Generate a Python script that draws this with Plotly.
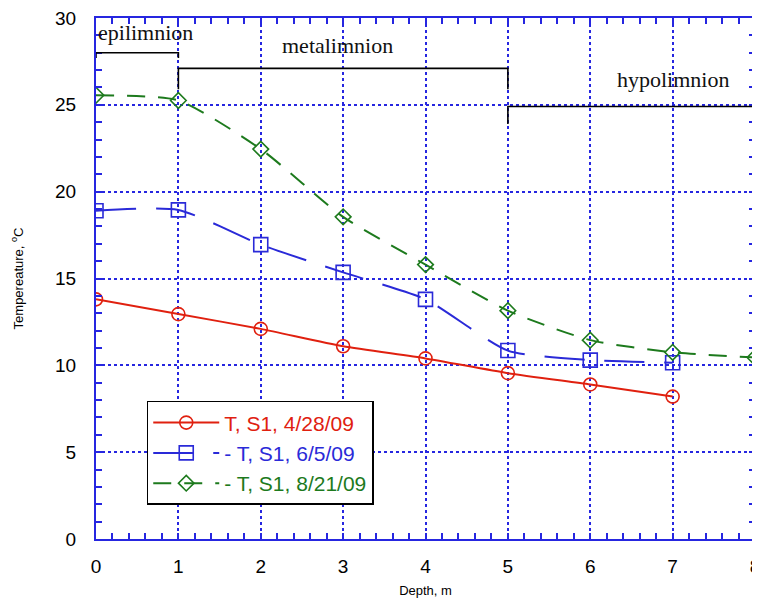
import plotly.graph_objects as go

depth_red = [0, 1, 2, 3, 4, 5, 6, 7]
temp_red = [13.8, 12.95, 12.1, 11.1, 10.4, 9.55, 8.9, 8.2]

depth_blue = [0, 1, 2, 3, 4, 5, 6, 7]
temp_blue = [18.9, 18.95, 16.95, 15.35, 13.8, 10.85, 10.3, 10.15]

depth_green = [0, 1, 2, 3, 4, 5, 6, 7, 8]
temp_green = [25.55, 25.25, 22.45, 18.55, 15.8, 13.15, 11.45, 10.75, 10.45]

series_names = ["T, S1, 4/28/09", "- T, S1, 6/5/09", "- T, S1, 8/21/09"]

layer_names = ["epilimnion", "metalimnion", "hypolimnion"]
layer_start = [0, 1, 5]
layer_end = [1, 5, 8]
layer_level = [28.0, 27.1, 24.9]
layer_drop = [0.3, 1.2, 1.0]
label_x = [0.0, 2.93, 7.0]
label_y = [29.15, 28.4, 26.45]

RED = "#e0200f"
BLUE = "#2a2ad8"
GREEN = "#1d7a1d"
GRID = "#2626e0"

fig = go.Figure()


def add(x, y, name, color, symbol, size, dash):
    fig.add_trace(go.Scatter(
        x=x, y=y, mode="lines+markers",
        name=f'<span style="color:{color}">{name}</span>',
        line=dict(color=color, width=2, shape="spline", smoothing=0.6, dash=dash),
        marker=dict(symbol=symbol, size=size, color=color,
                    line=dict(color=color, width=1.6)),
    ))


add(depth_red, temp_red, series_names[0], RED, "circle-open", 13, "solid")
add(depth_blue, temp_blue, series_names[1], BLUE, "square-open", 14, "40px,20px")
add(depth_green, temp_green, series_names[2], GREEN, "diamond-open", 12, "18px,13px")

for i in range(len(layer_names)):
    a, b, lv, d = layer_start[i], layer_end[i], layer_level[i], layer_drop[i]
    fig.add_shape(type="path",
                  path=f"M {a},{lv - d} L {a},{lv} L {b},{lv} L {b},{lv - d}",
                  line=dict(color="black", width=1.6))
    fig.add_annotation(x=label_x[i], y=label_y[i],
                       text=layer_names[i], showarrow=False,
                       xanchor="center" if i else "left",
                       font=dict(family="Liberation Serif", size=22, color="#111"))

minor_style = dict(ticks="inside", ticklen=6, tickcolor=GRID, tickwidth=1.5, showgrid=False)

axis_common = dict(
    showline=True, linecolor=GRID, linewidth=2, mirror="allticks",
    showgrid=True, gridcolor=GRID, griddash="dot", gridwidth=2,
    ticks="inside", ticklen=6, tickcolor=GRID, tickwidth=1.5,
    zeroline=False, ticklabeloverflow="allow",
    tickfont=dict(family="Liberation Sans", size=19, color="black"),
)

fig.update_xaxes(range=[0, 8], dtick=1, tick0=0,
                 minor=dict(dtick=0.2, **minor_style),
                 title=dict(text="Depth, m", font=dict(family="Liberation Sans", size=13, color="black"), standoff=10),
                 ticklabelstandoff=9, **axis_common)
fig.update_yaxes(range=[0, 30], dtick=5, tick0=0,
                 minor=dict(dtick=1, **minor_style),
                 title=dict(text="Tempereature, <sup>o</sup>C", font=dict(family="Liberation Sans", size=13, color="black"), standoff=29),
                 ticklabelstandoff=14, **axis_common)

# mirrored axes to carry minor ticks on the top and right sides
fig.update_layout(
    xaxis2=dict(overlaying="x", side="top", matches="x", range=[0, 8], dtick=1,
                showticklabels=False, showgrid=False, zeroline=False, showline=False,
                ticks="inside", ticklen=6, tickcolor=GRID, tickwidth=1.5,
                minor=dict(dtick=0.2, **minor_style)),
    yaxis2=dict(overlaying="y", side="right", matches="y", range=[0, 30], dtick=5,
                showticklabels=False, showgrid=False, zeroline=False, showline=False,
                ticks="inside", ticklen=6, tickcolor=GRID, tickwidth=1.5,
                minor=dict(dtick=1, **minor_style)),
)
fig.add_trace(go.Scatter(x=[None], y=[None], xaxis="x2", yaxis="y2", showlegend=False, hoverinfo="skip"))

# the page body has an 8px margin, so the figure is sized to fit the window
fig.update_layout(
    width=752, height=596,
    margin=dict(l=88, r=5, t=10, b=65, autoexpand=False),
    plot_bgcolor="white", paper_bgcolor="white",
    showlegend=True,
    legend=dict(x=0.077, y=0.265, xanchor="left", yanchor="top",
                bgcolor="white", bordercolor="black", borderwidth=1.5,
                font=dict(family="Liberation Sans", size=21),
                itemwidth=66, tracegroupgap=0),
)

fig.write_html("out.html")
